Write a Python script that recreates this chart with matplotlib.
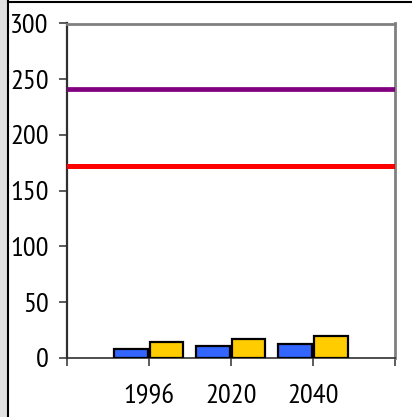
import matplotlib
matplotlib.use("Agg")
import matplotlib.pyplot as plt
from matplotlib.patches import Rectangle
from matplotlib.lines import Line2D
import numpy as np

categories = ["1996", "2020", "2040"]
blue_values = [8, 10.5, 12.5]
yellow_values = [14, 17, 19.5]
purple_level = 241
red_level = 172
y_ticks = [0, 50, 100, 150, 200, 250, 300]

plt.rcParams['font.family'] = ['PT Sans Narrow', 'Liberation Sans', 'DejaVu Sans']

fig = plt.figure(figsize=(4.12, 4.17), dpi=100)
fig.patch.set_facecolor('white')
# outer frame decorations
fig.add_artist(Rectangle((0, 0), 7.5/412, 1, transform=fig.transFigure, facecolor='#e0e0e0', edgecolor='none'))
fig.add_artist(Line2D([8/412, 8/412], [0, 1], transform=fig.transFigure, color='black', lw=1.5))
fig.add_artist(Line2D([8/412, 1], [1 - 1.5/417, 1 - 1.5/417], transform=fig.transFigure, color='black', lw=1.5))

ax = fig.add_axes([66.7/412, 1 - 357.7/417, (395 - 66.7)/412, (357.7 - 23.5)/417])

x = np.arange(1, len(categories) + 1)
w = 0.41
ax.bar(x - w/2 - 0.012, blue_values, width=w, color='#3366FF', edgecolor='black', linewidth=1.6, zorder=3)
ax.bar(x + w/2 + 0.012, yellow_values, width=w, color='#FFCC00', edgecolor='black', linewidth=1.6, zorder=3)
ax.axhline(purple_level, color='#800080', lw=3.4, zorder=4)
ax.axhline(red_level, color='#FF0000', lw=3.6, zorder=4)

ax.set_xlim(0, len(categories) + 1)
ax.set_ylim(0, 300)
ax.set_xticks(np.arange(0, len(categories) + 2))
ax.set_xticklabels([''] + categories + [''])
ax.set_yticks(y_ticks)
ax.tick_params(axis='both', direction='out', length=6, width=1.2, color='#404040', labelsize=20.5, pad=7)
ax.tick_params(axis='x', pad=13)

for s in ['top', 'right']:
    ax.spines[s].set_color('#808080')
    ax.spines[s].set_linewidth(2)
ax.spines['left'].set_color('#303030')
ax.spines['left'].set_linewidth(1.6)
ax.spines['bottom'].set_color('#303030')
ax.spines['bottom'].set_linewidth(1.2)

fig.savefig('out.png', dpi=100)
